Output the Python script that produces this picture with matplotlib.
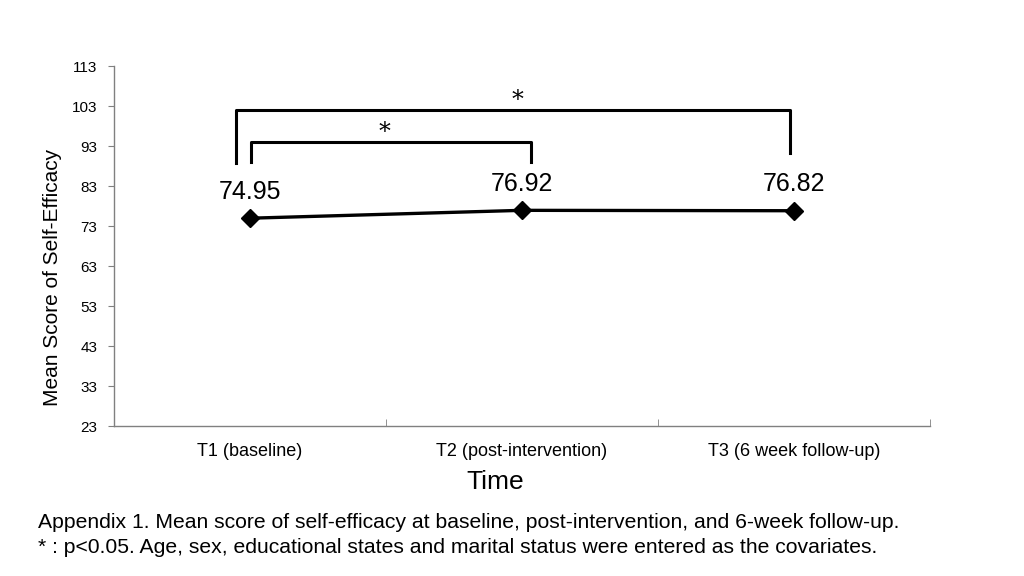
import matplotlib
matplotlib.use("Agg")
import matplotlib.pyplot as plt

categories = ["T1 (baseline)", "T2 (post-intervention)", "T3 (6 week follow-up)"]
scores = [74.95, 76.92, 76.82]
yticks = [23, 33, 43, 53, 63, 73, 83, 93, 103, 113]

plt.rcParams['font.family'] = ['Liberation Sans', 'DejaVu Sans']

fig = plt.figure(figsize=(10.24, 5.76), dpi=100)
ax = fig.add_axes([0.1113, 0.2604, 0.7969, 0.625])

x = list(range(len(categories)))
ax.plot(x, scores, color='black', lw=2.4, marker='D', markersize=9, zorder=3)
for xi, v in zip(x, scores):
    ax.annotate(f"{v:.2f}", (xi, v), xytext=(0, 19), textcoords='offset points',
                ha='center', va='center', fontsize=18)

ax.set_xlim(-0.5, 2.5)
ax.set_ylim(23, 113)
ax.set_yticks(yticks)
ax.set_yticklabels([str(t) for t in yticks], fontsize=11)
ax.set_xticks(x)
ax.set_xticklabels(categories, fontsize=13)
ax.tick_params(axis='x', length=0, pad=12)
ax.set_xticks([0.5, 1.5, 2.5], minor=True)
ax.tick_params(axis='x', which='minor', length=5, direction='in', color='#808080')
ax.tick_params(axis='y', length=4, direction='out', color='#808080', pad=8)
for s in ['top', 'right']:
    ax.spines[s].set_visible(False)
for s in ['left', 'bottom']:
    ax.spines[s].set_color('#808080')
    ax.spines[s].set_linewidth(1)
ax.set_ylabel("Mean Score of Self-Efficacy", fontsize=15)
ax.yaxis.set_label_coords(-0.0637, 0.414)
ax.set_xlabel("Time", fontsize=19)
ax.xaxis.set_label_coords(0.467, -0.122)

# significance brackets
ax.plot([-0.051, -0.051, 1.985, 1.985], [88.75, 102, 102, 91.25], color='black', lw=2.2, clip_on=False)
ax.plot([0.004, 0.004, 1.033, 1.033], [89, 94, 94, 89], color='black', lw=2.2, clip_on=False)
ax.text(0.985, 104.3, "*", ha='center', va='center', fontsize=17, family='DejaVu Serif')
ax.text(0.496, 96.4, "*", ha='center', va='center', fontsize=17, family='DejaVu Serif')

fig.text(0.037, 0.071, "Appendix 1. Mean score of self-efficacy at baseline, post-intervention, and 6-week follow-up.\n"
         "* : p<0.05. Age, sex, educational states and marital status were entered as the covariates.",
         fontsize=15.2, ha='left', va='center', linespacing=1.35)

fig.savefig("out.png", dpi=100)
